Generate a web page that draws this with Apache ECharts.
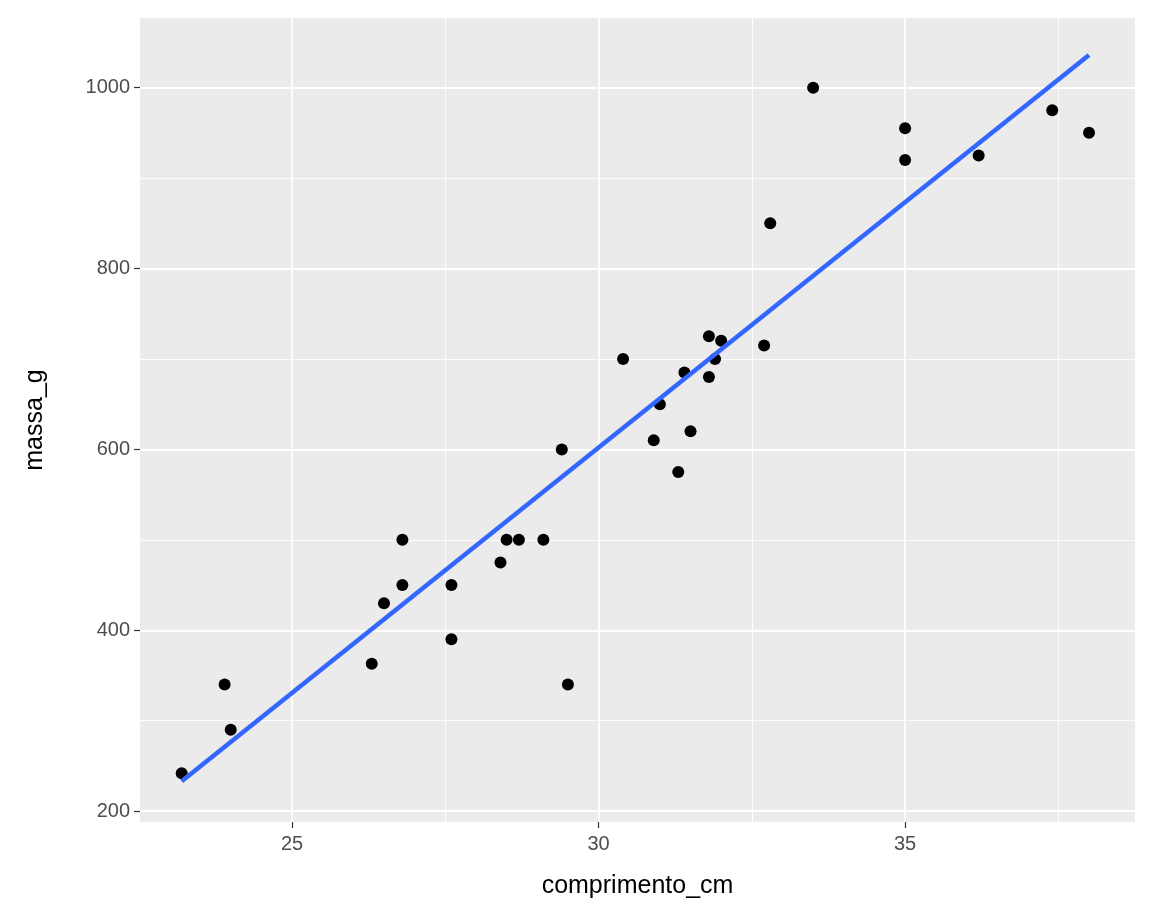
<!DOCTYPE html>
<html><head><meta charset="utf-8">
<script src="https://cdn.jsdelivr.net/npm/echarts@6/dist/echarts.min.js"></script>
<style>html,body{margin:0;padding:0;background:#fff}#c{width:1152px;height:922px}</style>
</head><body><div id="c"></div>
<script>
const comprimento = [23.2,23.9,24.0,26.3,26.5,26.8,26.8,27.6,27.6,28.4,28.5,28.7,29.1,29.4,29.5,30.4,30.9,31.0,31.3,31.4,31.5,31.8,31.8,31.9,32.0,32.7,32.8,33.5,35.0,35.0,36.2,37.4,38.0];
const massa = [242,340,290,363,430,500,450,450,390,475,500,500,500,600,340,700,610,650,575,685,620,725,680,700,720,715,850,1000,955,920,925,975,950];
const fitX = [23.2, 38.0];
const fitY = [233, 1036];
const xTicks = [25,30,35];
const xMinor = [22.5,27.5,32.5,37.5];
const yTicks = [200,400,600,800,1000];
const yMinor = [300,500,700,900];

const chart = echarts.init(document.getElementById('c'));
const major = {color:'#ffffff', width:1.8, type:'solid'};
const minor = {color:'#ffffff', width:0.9, type:'solid'};
const gridLines = [
  ...xTicks.map(v=>({xAxis:v, lineStyle:major})),
  ...xMinor.map(v=>({xAxis:v, lineStyle:minor})),
  ...yTicks.map(v=>({yAxis:v, lineStyle:major})),
  ...yMinor.map(v=>({yAxis:v, lineStyle:minor}))
];
const lab = {color:'#4d4d4d', fontSize:20, fontFamily:'Liberation Sans', formatter:v=>String(v)};
chart.setOption({
  animation:false,
  grid:{left:140,right:17,top:18,bottom:100,show:true,backgroundColor:'#EBEBEB',borderWidth:0},
  xAxis:{type:'value',min:22.52,max:38.75,
    name:'comprimento_cm',nameLocation:'middle',nameGap:52,
    nameTextStyle:{color:'#000',fontSize:25,fontFamily:'Liberation Sans'},
    axisLine:{show:false},splitLine:{show:false},
    axisTick:{show:true,length:6,customValues:xTicks,lineStyle:{color:'#333',width:1.2}},
    axisLabel:{...lab,margin:12,customValues:xTicks}},
  yAxis:{type:'value',min:188,max:1077,
    name:'massa_g',nameLocation:'middle',nameGap:92,nameRotate:90,
    nameTextStyle:{color:'#000',fontSize:25,fontFamily:'Liberation Sans'},
    axisLine:{show:false},splitLine:{show:false},
    axisTick:{show:true,length:6,customValues:yTicks,lineStyle:{color:'#333',width:1.2}},
    axisLabel:{...lab,margin:10,customValues:yTicks}},
  series:[
    {type:'line',data:[],zlevel:0,z:1,markLine:{silent:true,symbol:'none',label:{show:false},data:gridLines,animation:false}},
    {type:'scatter',data:comprimento.map((x,i)=>[x,massa[i]]),symbolSize:12,itemStyle:{color:'#000',opacity:1},zlevel:1,z:3},
    {type:'line',data:fitX.map((x,i)=>[x,fitY[i]]),showSymbol:false,symbol:'none',lineStyle:{color:'#3366FF',width:4.5},zlevel:1,z:4}
  ]
});
</script></body></html>
